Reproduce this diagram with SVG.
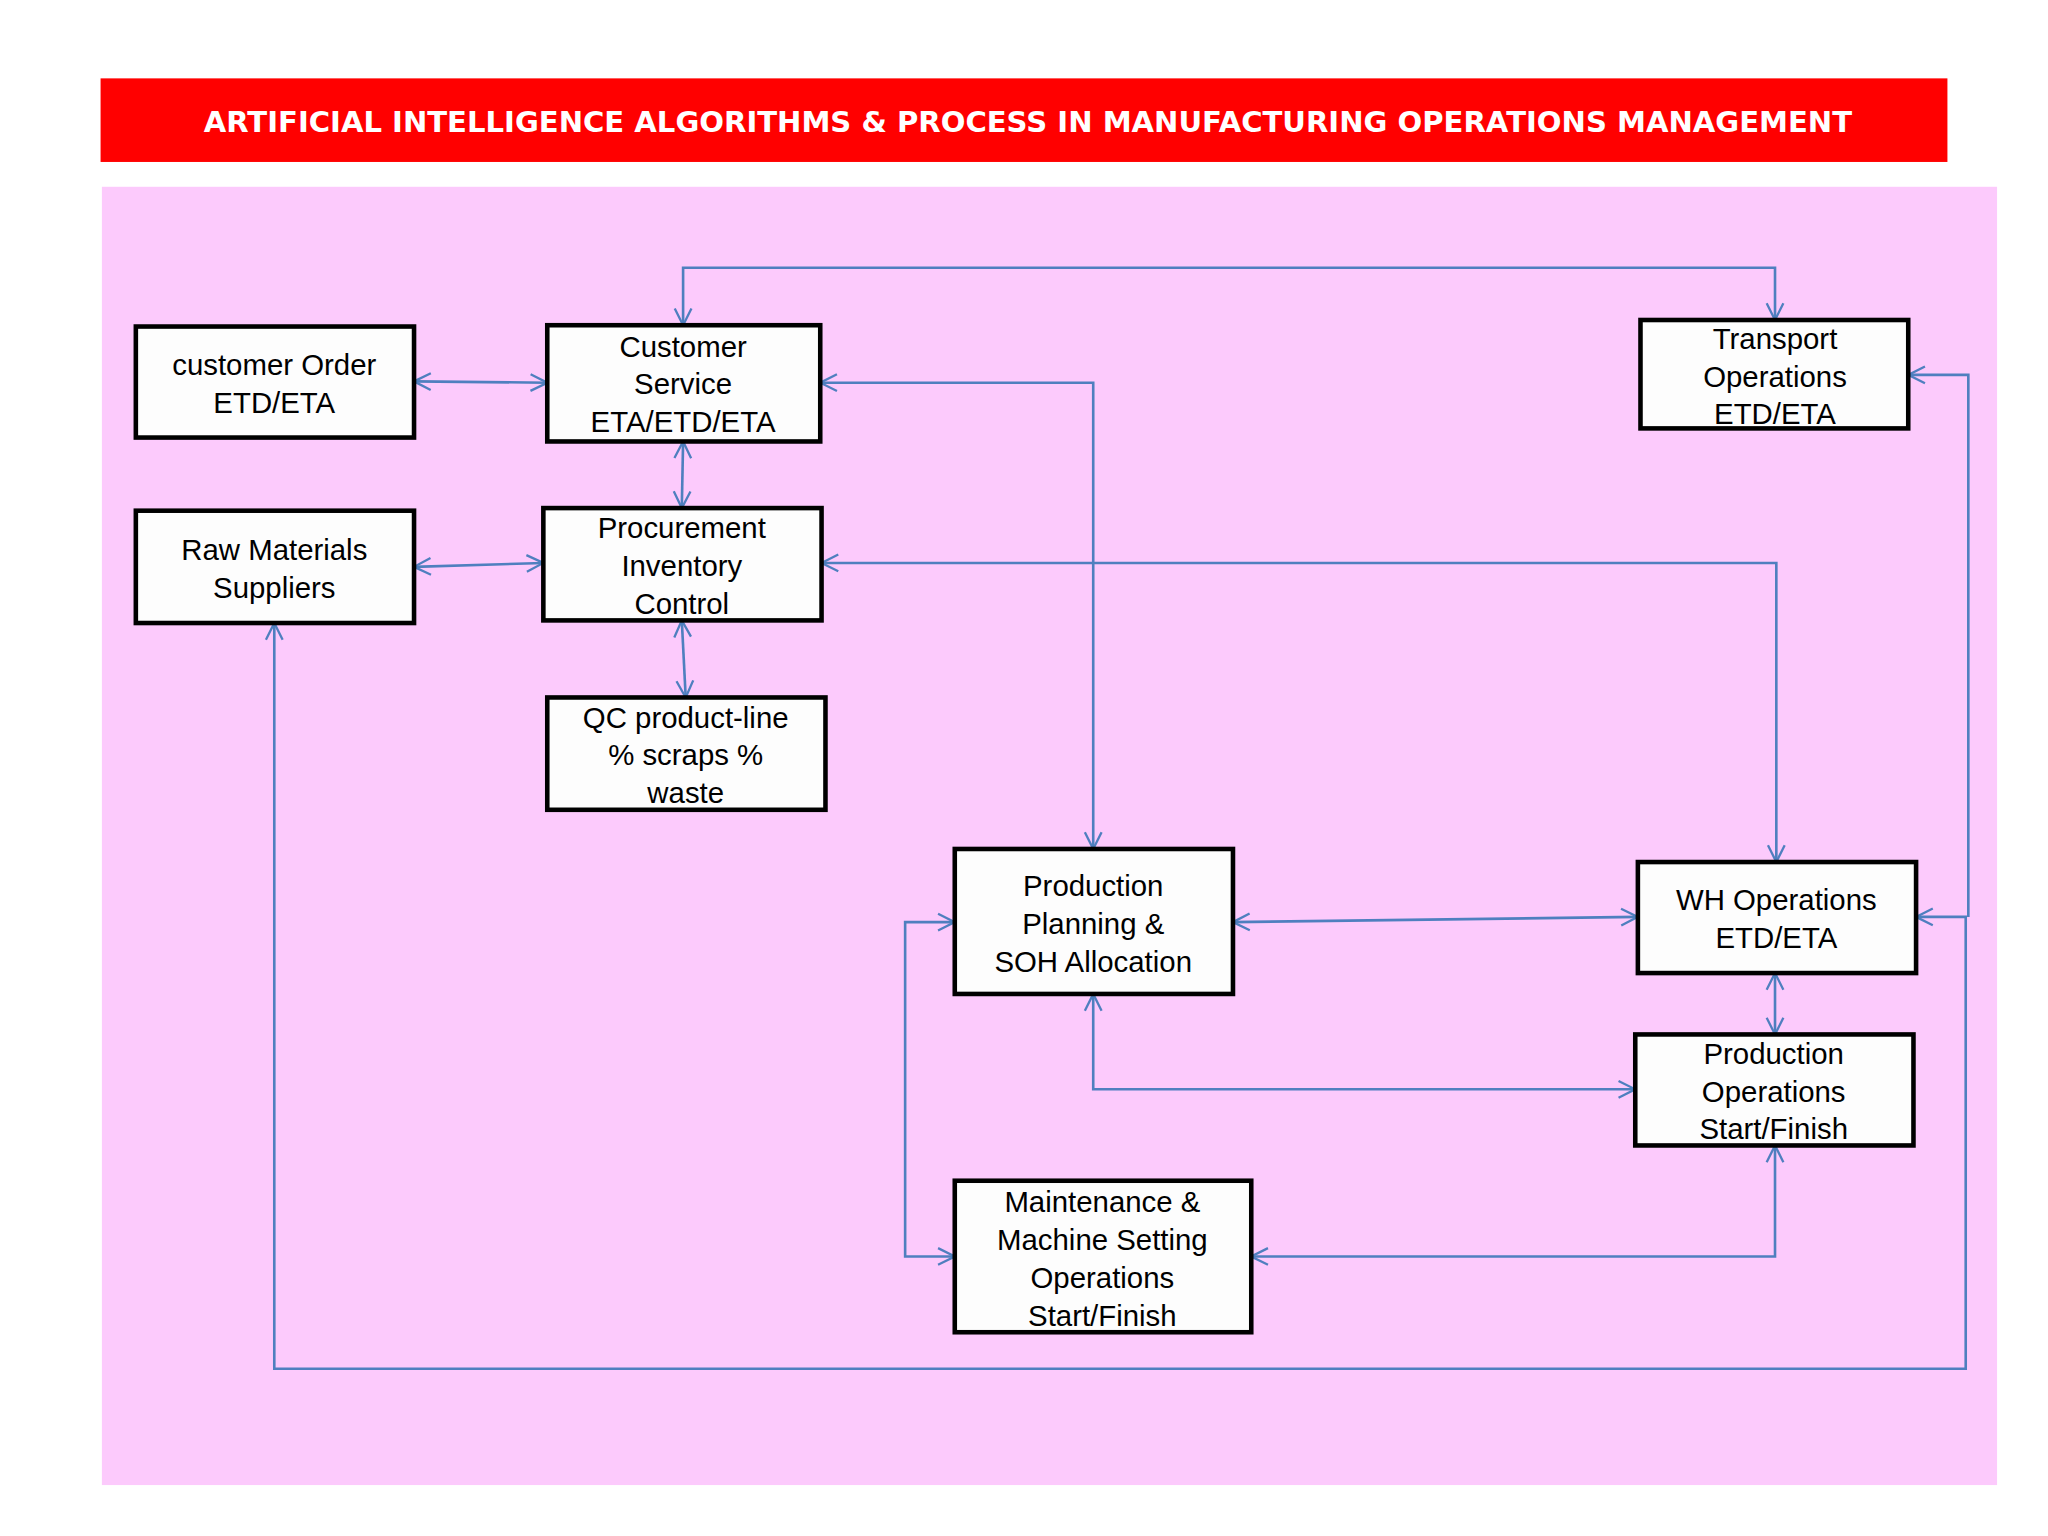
<svg xmlns="http://www.w3.org/2000/svg" width="2048" height="1536" viewBox="0 0 2048 1536">
<style>
.n{fill:#fdfdfd;stroke:#000;stroke-width:3.5}
.t{font-family:"Liberation Sans",Arial,sans-serif;font-size:22.5px;fill:#000;text-anchor:middle}
.c{fill:none;stroke:#4f7fbf;stroke-width:2;marker-start:url(#a);marker-end:url(#a)}
.c1{fill:none;stroke:#4f7fbf;stroke-width:2}
</style>
<defs>
<marker id="a" viewBox="0 0 20 20" refX="18" refY="10" markerWidth="16" markerHeight="16" markerUnits="userSpaceOnUse" orient="auto-start-reverse">
<path d="M2,2 L18,10 L2,18" fill="none" stroke="#4f7fbf" stroke-width="2.2"/>
</marker>
</defs>
<rect width="2048" height="1536" fill="#fff"/>
<g transform="scale(1.30612)">
<rect x="77" y="60" width="1414" height="64" fill="#ff0000"/>
<text x="787" y="101" font-family="DejaVu Sans,Verdana,sans-serif" font-weight="bold" font-size="21.5" fill="#fff" text-anchor="middle" textLength="1262" lengthAdjust="spacingAndGlyphs">ARTIFICIAL INTELLIGENCE ALGORITHMS &amp; PROCESS IN MANUFACTURING OPERATIONS MANAGEMENT</text>
<rect x="78" y="143" width="1451" height="994" fill="#fccafc"/>
<g id="connectors">
<path class="c" d="M317,292 L419,293"/>
<path class="c" d="M523,249 V205 H1359 V245"/>
<path class="c" d="M523,338 L522,389"/>
<path class="c" d="M317,434 L416,431"/>
<path class="c" d="M522,475 L525,534"/>
<path class="c" d="M628,293 H837 V650"/>
<path class="c" d="M629,431 H1360 V660"/>
<path class="c" d="M944,706 L1254,702"/>
<path class="c" d="M1359,745 V792"/>
<path class="c" d="M837,761 V834 H1252"/>
<path class="c" d="M731,706 H693 V962 H731"/>
<path class="c" d="M958,962 H1359 V877"/>
<path class="c" d="M210,477 V1048 H1505 V702 H1467"/>
<path class="c1" d="M1461,287 H1507 V702" style="marker-start:url(#a)"/>
</g>
<g id="customerOrder"><rect class="n" x="104" y="250" width="213" height="85"/><text class="t" x="210" y="287">customer Order</text><text class="t" x="210" y="316">ETD/ETA</text></g>
<g id="customerService"><rect class="n" x="419" y="249" width="209" height="89"/><text class="t" x="523" y="273">Customer</text><text class="t" x="523" y="302">Service</text><text class="t" x="523" y="331">ETA/ETD/ETA</text></g>
<g id="transport"><rect class="n" x="1256" y="245" width="205" height="83"/><text class="t" x="1359" y="267">Transport</text><text class="t" x="1359" y="296">Operations</text><text class="t" x="1359" y="325">ETD/ETA</text></g>
<g id="rawMaterials"><rect class="n" x="104" y="391" width="213" height="86"/><text class="t" x="210" y="429">Raw Materials</text><text class="t" x="210" y="458">Suppliers</text></g>
<g id="procurement"><rect class="n" x="416" y="389" width="213" height="86"/><text class="t" x="522" y="412">Procurement</text><text class="t" x="522" y="441">Inventory</text><text class="t" x="522" y="470">Control</text></g>
<g id="qc"><rect class="n" x="419" y="534" width="213" height="86"/><text class="t" x="525" y="557">QC product-line</text><text class="t" x="525" y="586">% scraps %</text><text class="t" x="525" y="615">waste</text></g>
<g id="productionPlanning"><rect class="n" x="731" y="650" width="213" height="111"/><text class="t" x="837" y="686">Production</text><text class="t" x="837" y="715">Planning &amp;</text><text class="t" x="837" y="744">SOH Allocation</text></g>
<g id="whOps"><rect class="n" x="1254" y="660" width="213" height="85"/><text class="t" x="1360" y="697">WH Operations</text><text class="t" x="1360" y="726">ETD/ETA</text></g>
<g id="productionOps"><rect class="n" x="1252" y="792" width="213" height="85"/><text class="t" x="1358" y="815">Production</text><text class="t" x="1358" y="844">Operations</text><text class="t" x="1358" y="872">Start/Finish</text></g>
<g id="maintenance"><rect class="n" x="731" y="904" width="227" height="116"/><text class="t" x="844" y="928">Maintenance &amp;</text><text class="t" x="844" y="957">Machine Setting</text><text class="t" x="844" y="986">Operations</text><text class="t" x="844" y="1015">Start/Finish</text></g>
</g>
</svg>
